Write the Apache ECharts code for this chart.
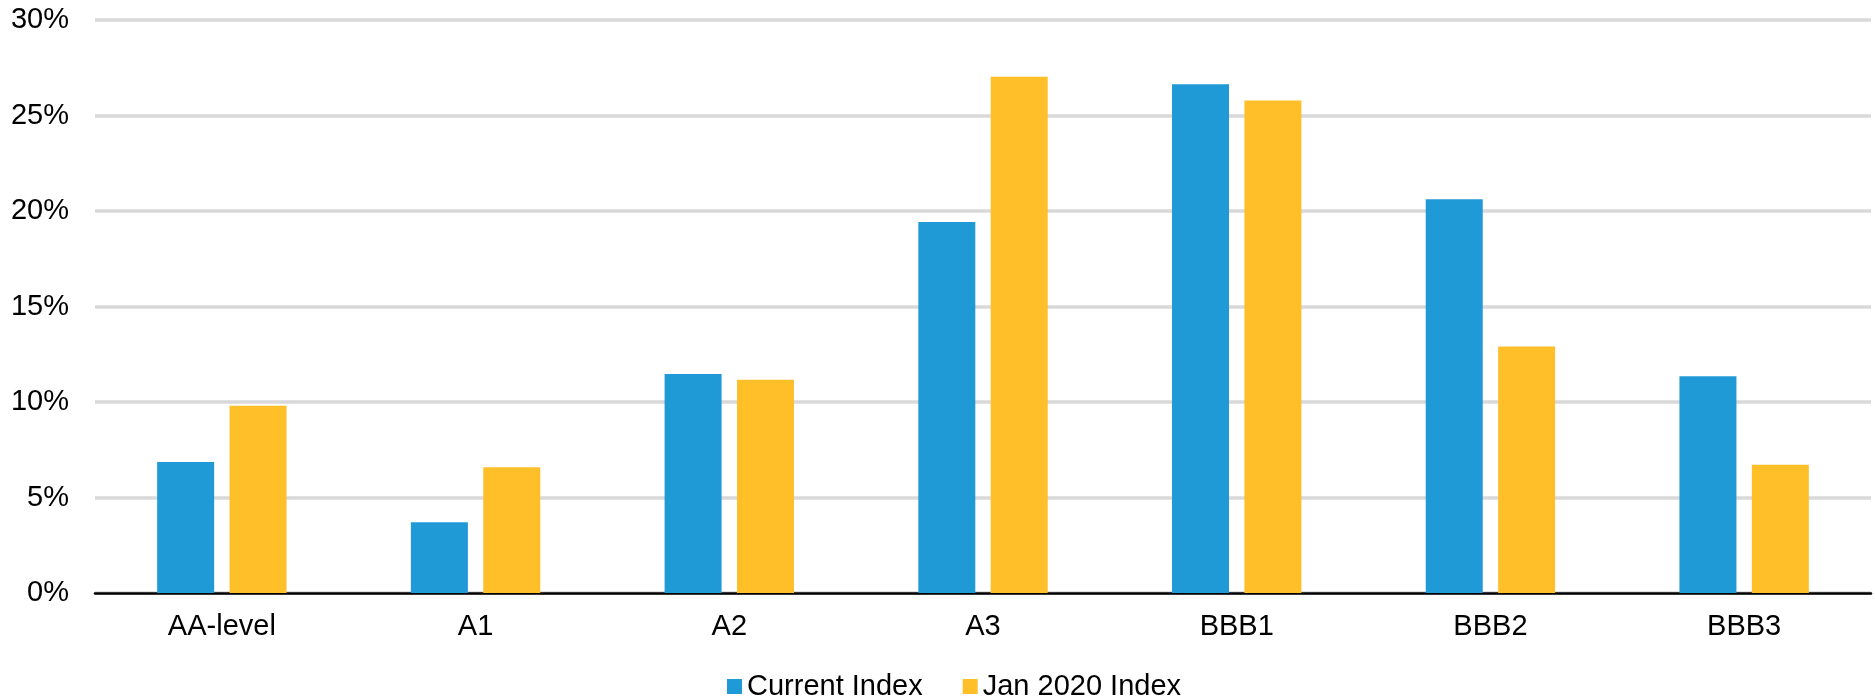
<!DOCTYPE html>
<html>
<head>
<meta charset="utf-8">
<script src="https://cdn.jsdelivr.net/npm/echarts@6/dist/echarts.min.js"></script>
<style>
html,body{margin:0;padding:0;background:#fff;}
#chart{width:1875px;height:698px;}
</style>
</head>
<body>
<div id="chart"></div>
<script>
const categories = ['AA-level', 'A1', 'A2', 'A3', 'BBB1', 'BBB2', 'BBB3'];
const currentIndex = [6.86, 3.70, 11.47, 19.43, 26.63, 20.62, 11.35];
const jan2020Index = [9.80, 6.58, 11.16, 27.03, 25.79, 12.91, 6.72];
const yTicks = { min: 0, max: 30, interval: 5 };

const FONT = '"Liberation Sans", Arial, sans-serif';
const chart = echarts.init(document.getElementById('chart'), null, { renderer: 'canvas' });
chart.setOption({
  animation: false,
  backgroundColor: '#ffffff',
  grid: { left: 95, right: 4, top: 20, bottom: 105, containLabel: false },
  legend: {
    data: ['Current Index', 'Jan 2020 Index'],
    left: 722,
    top: 667,
    icon: 'rect',
    itemWidth: 15,
    itemHeight: 15,
    itemGap: 40,
    textStyle: { fontFamily: FONT, fontSize: 29, color: '#000' }
  },
  xAxis: {
    type: 'category',
    data: categories,
    axisLine: { lineStyle: { color: '#000', width: 2.5 } },
    axisTick: { show: false },
    axisLabel: { fontFamily: FONT, fontSize: 29, color: '#000', margin: 19 }
  },
  yAxis: {
    type: 'value',
    min: yTicks.min,
    max: yTicks.max,
    interval: yTicks.interval,
    axisLine: { show: false },
    axisTick: { show: false },
    axisLabel: { fontFamily: FONT, fontSize: 29, color: '#000', margin: 26, formatter: '{value}%' },
    splitLine: { lineStyle: { color: '#d9d9d9', width: 3.5 } }
  },
  series: [
    {
      name: 'Current Index',
      type: 'bar',
      data: currentIndex,
      barWidth: 57,
      barGap: '27%',
      itemStyle: { color: '#209ad6' }
    },
    {
      name: 'Jan 2020 Index',
      type: 'bar',
      data: jan2020Index,
      barWidth: 57,
      barGap: '27%',
      itemStyle: { color: '#febf29' }
    }
  ]
});
</script>
</body>
</html>
